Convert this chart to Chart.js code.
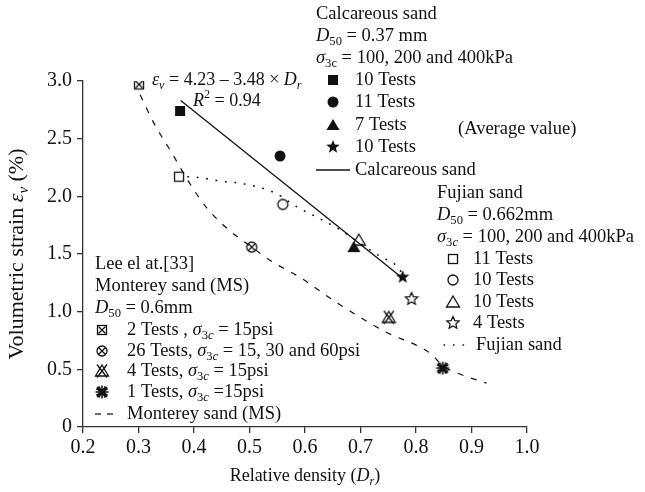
<!DOCTYPE html>
<html>
<head>
<meta charset="utf-8">
<script src="https://cdn.jsdelivr.net/npm/chart.js@4.4.0/dist/chart.umd.min.js"></script>
<style>
  body { margin: 0; background: #fff; }
  canvas { display: block; }
</style>
</head>
<body>
<canvas id="myChart" width="645" height="492"></canvas>
<script>
// Calcareous sand (filled markers, average values)
const calcDr = [0.375, 0.555, 0.688, 0.776];
const calcEv = [2.74, 2.35, 1.56, 1.30];
const calcFitDr = [0.376, 0.776];
const calcFitEv = [2.83, 1.29];

// Fujian sand (open markers)
const fujDr = [0.373, 0.56, 0.697, 0.792];
const fujEv = [2.17, 1.93, 1.62, 1.11];
const fujCurveDr = [0.389, 0.414, 0.45, 0.488, 0.546, 0.585, 0.625, 0.663, 0.70, 0.735, 0.77, 0.785];
const fujCurveEv = [2.17, 2.16, 2.13, 2.11, 2.03, 1.91, 1.81, 1.71, 1.59, 1.48, 1.37, 1.22];

// Monterey sand (Lee et al.)
const montDr = [0.301, 0.504, 0.751, 0.848];
const montEv = [2.97, 1.56, 0.95, 0.51];
const montCurveDr = [0.303, 0.326, 0.362, 0.39, 0.423, 0.465, 0.504, 0.542, 0.59, 0.657, 0.747, 0.80, 0.828, 0.848, 0.873, 0.927];
const montCurveEv = [2.88, 2.65, 2.36, 2.13, 1.90, 1.70, 1.56, 1.43, 1.30, 1.08, 0.82, 0.71, 0.63, 0.53, 0.47, 0.38];

const xTicks = [0.2, 0.3, 0.4, 0.5, 0.6, 0.7, 0.8, 0.9, 1.0];
const yTicks = [0, 0.5, 1.0, 1.5, 2.0, 2.5, 3.0];

const FONT = "'Liberation Serif', 'DejaVu Serif', serif";
const INK = '#111';

// marker images
function starPath(g, R, r) {
  g.beginPath();
  for (let i = 0; i < 10; i++) {
    const a = -Math.PI / 2 + i * Math.PI / 5;
    const rad = i % 2 ? r : R;
    g.lineTo(rad * Math.cos(a), rad * Math.sin(a));
  }
  g.closePath();
}

function triPath(g) {
  g.beginPath();
  g.moveTo(0, -6);
  g.lineTo(6.5, 5);
  g.lineTo(-6.5, 5);
  g.closePath();
}

function makeMarker(kind) {
  const c = document.createElement('canvas');
  c.width = 16; c.height = 16;
  const g = c.getContext('2d');
  g.translate(8, 8);
  g.strokeStyle = INK;
  g.fillStyle = INK;
  g.lineWidth = 1.3;
  if (kind == 'sqFill') g.fillRect(-5, -5, 10, 10);
  if (kind == 'circFill') { g.beginPath(); g.arc(0, 0, 5.5, 0, Math.PI * 2); g.fill(); }
  if (kind == 'triFill') { triPath(g); g.fill(); }
  if (kind == 'starFill') { starPath(g, 7, 3); g.fill(); }
  if (kind == 'sq' || kind == 'sqX') g.strokeRect(-4.5, -4.5, 9, 9);
  if (kind == 'circ' || kind == 'circX') { g.beginPath(); g.arc(0, 0, 5, 0, Math.PI * 2); g.stroke(); }
  if (kind == 'tri' || kind == 'triX') { triPath(g); g.stroke(); }
  if (kind == 'star') { g.lineWidth = 1.2; starPath(g, 6.5, 3); g.stroke(); }
  if (kind == 'sqX' || kind == 'circX') {
    const d = 3.5;
    g.beginPath();
    g.moveTo(-d, -d); g.lineTo(d, d);
    g.moveTo(d, -d); g.lineTo(-d, d);
    g.stroke();
  }
  if (kind == 'triX') {
    g.beginPath();
    g.moveTo(-5, -6.5); g.lineTo(5, 6.5);
    g.moveTo(5, -6.5); g.lineTo(-5, 6.5);
    g.stroke();
  }
  if (kind == 'ast') {
    g.lineWidth = 1.5;
    g.beginPath();
    for (let i = 0; i < 6; i++) {
      const a = i * Math.PI / 6 + Math.PI / 2;
      g.moveTo(-6.5 * Math.cos(a), -6.5 * Math.sin(a));
      g.lineTo(6.5 * Math.cos(a), 6.5 * Math.sin(a));
    }
    g.moveTo(-5, -5); g.lineTo(5, 5);
    g.moveTo(5, -5); g.lineTo(-5, 5);
    g.stroke();
  }
  return c;
}

const M = {};
['sqFill', 'circFill', 'triFill', 'starFill', 'sq', 'circ', 'tri', 'star', 'sqX', 'circX', 'triX', 'ast']
  .forEach(k => M[k] = makeMarker(k));

function pts(xs, ys) {
  return xs.map((x, i) => ({ x: x, y: ys[i] }));
}

function markerSet(xs, ys, i, img) {
  return {
    data: [{ x: xs[i], y: ys[i] }],
    pointStyle: img,
    showLine: false
  };
}

// rich text: parts = [[text, flags]], flags: i italic, b subscript, p superscript
function drawRich(ctx, x, y, parts, size, align) {
  const fontFor = (f) => {
    const s = (f.includes('b') || f.includes('p')) ? size * 0.68 : size;
    return (f.includes('i') ? 'italic ' : '') + s + 'px ' + FONT;
  };
  let total = 0;
  parts.forEach(p => { ctx.font = fontFor(p[1] || ''); total += ctx.measureText(p[0]).width; });
  let cx = x;
  if (align == 'center') cx = x - total / 2;
  ctx.textBaseline = 'middle';
  ctx.textAlign = 'left';
  parts.forEach(p => {
    const f = p[1] || '';
    ctx.font = fontFor(f);
    let dy = 0;
    if (f.includes('b')) dy = size * 0.3;
    if (f.includes('p')) dy = -size * 0.35;
    ctx.fillText(p[0], cx, y + dy);
    cx += ctx.measureText(p[0]).width;
  });
}

const annotations = {
  id: 'annotations',
  afterDraw(chart) {
    const ctx = chart.ctx;
    const s = 18.5;
    ctx.save();
    ctx.fillStyle = INK;
    ctx.strokeStyle = INK;

    // axis titles
    drawRich(ctx, 305, 476, [['Relative density ('], ['D', 'i'], ['r', 'ib'], [')']], 18, 'center');
    ctx.save();
    ctx.translate(17, 254);
    ctx.rotate(-Math.PI / 2);
    drawRich(ctx, 0, 0, [['Volumetric strain '], ['ε', 'i'], ['v', 'ib'], [' (%)']], 22, 'center');
    ctx.restore();

    // fit equation
    drawRich(ctx, 152, 80, [['ε', 'i'], ['v', 'ib'], [' = 4.23 \u2013 3.48 \u00d7 '], ['D', 'i'], ['r', 'ib']], 18);
    drawRich(ctx, 193, 101, [['R', 'i'], ['2', 'p'], [' = 0.94']], 18);

    // calcareous legend
    drawRich(ctx, 316, 14, [['Calcareous sand']], s);
    drawRich(ctx, 316, 36, [['D', 'i'], ['50', 'b'], [' = 0.37 mm']], s);
    drawRich(ctx, 316, 58, [['σ', 'i'], ['3c', 'b'], [' = 100, 200 and 400kPa']], s);
    const calcLab = ['10 Tests', '11 Tests', '7 Tests', '10 Tests'];
    const calcImg = [M.sqFill, M.circFill, M.triFill, M.starFill];
    [80, 102, 125, 147].forEach((y, i) => {
      ctx.drawImage(calcImg[i], 333 - 8, y - 8);
      drawRich(ctx, 355, y, [[calcLab[i]]], s);
    });
    ctx.lineWidth = 1.3;
    ctx.beginPath(); ctx.moveTo(316, 170); ctx.lineTo(350, 170); ctx.stroke();
    drawRich(ctx, 355, 170, [['Calcareous sand']], s);
    drawRich(ctx, 458, 129, [['(Average value)']], s);

    // fujian legend
    drawRich(ctx, 437, 193, [['Fujian sand']], s);
    drawRich(ctx, 437, 215, [['D', 'i'], ['50', 'b'], [' = 0.662mm']], s);
    drawRich(ctx, 437, 237, [['σ', 'i'], ['3', 'b'], ['c', 'ib'], [' = 100, 200 and 400kPa']], s);
    const fujLab = ['11 Tests', '10 Tests', '10 Tests', '4 Tests'];
    const fujImg = [M.sq, M.circ, M.tri, M.star];
    [259, 280, 302, 323].forEach((y, i) => {
      ctx.drawImage(fujImg[i], 453 - 8, y - 8);
      drawRich(ctx, 473, y, [[fujLab[i]]], s);
    });
    ctx.lineWidth = 1.5;
    ctx.lineCap = 'round';
    ctx.setLineDash([0.5, 9]);
    ctx.beginPath(); ctx.moveTo(444, 345); ctx.lineTo(472, 345); ctx.stroke();
    ctx.setLineDash([]);
    ctx.lineCap = 'butt';
    drawRich(ctx, 476, 345, [['Fujian sand']], s);

    // monterey legend
    drawRich(ctx, 95, 264, [['Lee el at.[33]']], s);
    drawRich(ctx, 95, 286, [['Monterey sand (MS)']], s);
    drawRich(ctx, 95, 308, [['D', 'i'], ['50', 'b'], [' = 0.6mm']], s);
    const sig = [['σ', 'i'], ['3', 'b'], ['c', 'ib']];
    const montLab = [
      [['2 Tests , ']].concat(sig, [[' = 15psi']]),
      [['26 Tests, ']].concat(sig, [[' = 15, 30 and 60psi']]),
      [['4 Tests, ']].concat(sig, [[' = 15psi']]),
      [['1 Tests, ']].concat(sig, [[' =15psi']])
    ];
    const montImg = [M.sqX, M.circX, M.triX, M.ast];
    [330, 351, 371, 392].forEach((y, i) => {
      ctx.drawImage(montImg[i], 102 - 8, y - 8);
      drawRich(ctx, 127, y, montLab[i], s);
    });
    ctx.lineWidth = 1.2;
    ctx.setLineDash([6, 6]);
    ctx.beginPath(); ctx.moveTo(95, 414); ctx.lineTo(118, 414); ctx.stroke();
    ctx.setLineDash([]);
    drawRich(ctx, 127, 414, [['Monterey sand (MS)']], s);

    ctx.restore();
  }
};

const tickFont = { family: FONT, size: 20 };

const chart = new Chart(document.getElementById('myChart').getContext('2d'), {
  type: 'scatter',
  data: {
    datasets: [
      {
        data: pts(montCurveDr, montCurveEv),
        showLine: true, pointRadius: 0, cubicInterpolationMode: 'monotone',
        borderColor: INK, borderWidth: 1.2, borderDash: [6, 8]
      },
      {
        data: pts(fujCurveDr, fujCurveEv),
        showLine: true, pointRadius: 0, cubicInterpolationMode: 'monotone',
        borderColor: INK, borderWidth: 1.6, borderDash: [0.5, 9], borderCapStyle: 'round'
      },
      {
        data: pts(calcFitDr, calcFitEv),
        showLine: true, pointRadius: 0,
        borderColor: INK, borderWidth: 1.3
      },
      markerSet(montDr, montEv, 0, M.sqX),
      markerSet(montDr, montEv, 1, M.circX),
      markerSet(montDr, montEv, 2, M.triX),
      markerSet(montDr, montEv, 3, M.ast),
      markerSet(fujDr, fujEv, 0, M.sq),
      markerSet(fujDr, fujEv, 1, M.circ),
      markerSet(fujDr, fujEv, 2, M.tri),
      markerSet(fujDr, fujEv, 3, M.star),
      markerSet(calcDr, calcEv, 0, M.sqFill),
      markerSet(calcDr, calcEv, 1, M.circFill),
      markerSet(calcDr, calcEv, 2, M.triFill),
      markerSet(calcDr, calcEv, 3, M.starFill)
    ]
  },
  options: {
    responsive: false,
    animation: false,
    layout: { padding: { left: 0, right: 118, top: 81, bottom: 0 } },
    plugins: {
      legend: { display: false },
      tooltip: { enabled: false }
    },
    scales: {
      x: {
        type: 'linear',
        min: 0.2, max: 1.0,
        afterBuildTicks: (axis) => { axis.ticks = xTicks.map(v => ({ value: v })); },
        afterFit: (axis) => { axis.height = 65; },
        ticks: { font: tickFont, color: INK, padding: 3, callback: (v) => v.toFixed(1) },
        grid: { drawOnChartArea: false, drawTicks: true, tickLength: 6, color: '#333', lineWidth: 1.3 },
        border: { color: '#333', width: 1.3 }
      },
      y: {
        type: 'linear',
        min: 0, max: 3.0,
        afterBuildTicks: (axis) => { axis.ticks = yTicks.map(v => ({ value: v })); },
        afterFit: (axis) => { axis.width = 83; },
        ticks: { font: tickFont, color: INK, padding: 5, callback: (v) => v === 0 ? '0' : v.toFixed(1) },
        grid: { drawOnChartArea: false, drawTicks: true, tickLength: 6, color: '#333', lineWidth: 1.3 },
        border: { color: '#333', width: 1.3 }
      }
    }
  },
  plugins: [annotations]
});
</script>
</body>
</html>
